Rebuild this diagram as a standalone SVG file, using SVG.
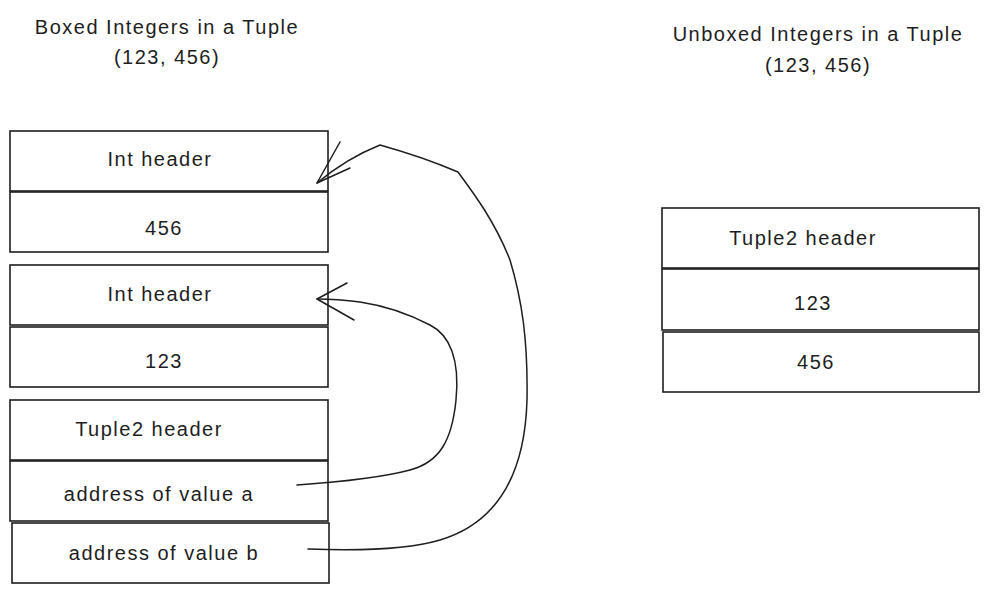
<svg xmlns="http://www.w3.org/2000/svg" width="991" height="594" viewBox="0 0 991 594">
<style>
.box{fill:#ffffff;stroke:#1e1e1e;stroke-width:1.6}
.lbl{font-family:"Liberation Sans",Arial,sans-serif;font-size:20px;letter-spacing:1.5px;fill:#1e1e1e;text-anchor:middle}
.title{font-family:"Liberation Sans",Arial,sans-serif;font-size:20px;letter-spacing:1.5px;fill:#1e1e1e;text-anchor:middle}
.wire{fill:none;stroke:#1e1e1e;stroke-width:1.5;stroke-linecap:round;stroke-linejoin:round}
</style>
<rect width="991" height="594" fill="#ffffff"/>
<g id="title-boxed">
<text class="title" x="167" y="34">Boxed Integers in a Tuple</text>
<text class="title" x="167" y="64">(123, 456)</text>
</g>
<g id="title-unboxed">
<text class="title" x="818" y="41">Unboxed Integers in a Tuple</text>
<text class="title" x="818" y="72">(123, 456)</text>
</g>
<g id="b-int-header-1"><rect class="box" x="10" y="131" width="318" height="60"/><text class="lbl" x="160" y="166">Int header</text></g>
<g id="b-456"><rect class="box" x="10" y="192" width="318" height="60"/><text class="lbl" x="164" y="235">456</text></g>
<g id="b-int-header-2"><rect class="box" x="10" y="265" width="318" height="60"/><text class="lbl" x="160" y="301">Int header</text></g>
<g id="b-123"><rect class="box" x="10" y="327" width="318" height="60"/><text class="lbl" x="164" y="368">123</text></g>
<g id="b-tuple2-header"><rect class="box" x="10" y="400" width="318" height="60"/><text class="lbl" x="149" y="436">Tuple2 header</text></g>
<g id="b-addr-a"><rect class="box" x="10" y="461" width="318" height="60"/><text class="lbl" x="159" y="501">address of value a</text></g>
<g id="b-addr-b"><rect class="box" x="12" y="523" width="317" height="60"/><text class="lbl" x="164" y="560">address of value b</text></g>
<g id="u-tuple2-header"><rect class="box" x="662" y="208" width="317" height="60"/><text class="lbl" x="803" y="245">Tuple2 header</text></g>
<g id="u-123"><rect class="box" x="662" y="269" width="317" height="61"/><text class="lbl" x="813" y="310">123</text></g>
<g id="u-456"><rect class="box" x="663" y="332" width="316" height="60"/><text class="lbl" x="816" y="369">456</text></g>
<g id="connectors">
<path class="wire" d="M308,549 C360,551 410,549 440,540 C500,522 525,470 527,400 C528,340 522,300 510,260 C495,222 475,195 458,172 C430,160 405,152 380,145 C355,155 335,168 317,183"/>
<path class="wire" d="M340,142 L317,183 L350,168"/>
<path class="wire" d="M297,485 C340,482 380,478 410,470 C440,462 452,440 456,400 C460,360 450,335 430,325 C405,312 380,305 360,302 C345,300 330,299 317,299"/>
<path class="wire" d="M347,283 L317,299 L354,320"/>
</g>
</svg>
